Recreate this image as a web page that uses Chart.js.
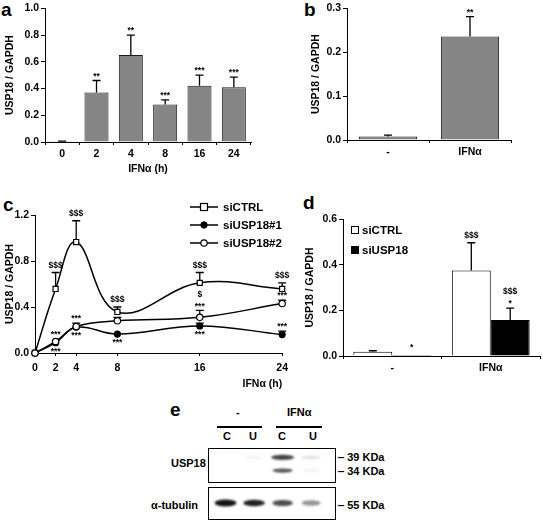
<!DOCTYPE html>
<html>
<head>
<meta charset="utf-8">
<script src="https://cdn.jsdelivr.net/npm/chart.js@4.4.1/dist/chart.umd.min.js"></script>
<style>
  body { margin: 0; width: 543px; height: 521px; overflow: hidden; position: relative; background: #fff;
         font-family: "Liberation Sans", Arial, sans-serif; font-weight: bold; color: #000; }
  .cx { position: absolute; }
  .txt { position: absolute; font-size: 11px; line-height: 12px; white-space: nowrap; }
  .letra { position: absolute; font-size: 19px; line-height: 20px; font-weight: bold; }
  .leg { position: absolute; font-size: 11.5px; line-height: 12px; display: flex; align-items: center; white-space: nowrap; }
  .leg svg { margin-right: 4px; }
  .traco { position: absolute; height: 2px; background: #000; }
  .caixa { position: absolute; border: 1.5px solid #000; box-sizing: border-box; }
</style>
</head>
<body>
<div class="letra" style="left:1px;top:0">a</div>
<div class="letra" style="left:304px;top:0">b</div>
<div class="letra" style="left:3px;top:195px">c</div>
<div class="letra" style="left:303px;top:193px">d</div>
<div class="letra" style="left:170px;top:400px">e</div>

<div class="cx" style="left:4px;top:0;width:262px;height:175px"><canvas id="graficoA"></canvas></div>
<div class="cx" style="left:310px;top:0;width:233px;height:173px"><canvas id="graficoB"></canvas></div>
<div class="cx" style="left:4px;top:205px;width:290px;height:185px"><canvas id="graficoC"></canvas></div>
<div class="cx" style="left:304px;top:209px;width:239px;height:168px"><canvas id="graficoD"></canvas></div>

<div id="legendaC"></div>
<div id="legendaD"></div>

<!-- painel e: western blot -->
<div class="txt" style="left:236px;top:406px">-</div>
<div class="txt" style="left:287px;top:406px">IFNα</div>
<div class="traco" style="left:217px;top:426px;width:45px"></div>
<div class="traco" style="left:276px;top:426px;width:46px"></div>
<div id="pistas"></div>
<div class="txt" style="left:171px;top:457px">USP18</div>
<div class="txt" style="left:151px;top:499px">α-tubulin</div>
<div class="txt" style="left:338px;top:451px">‒ 39 KDa</div>
<div class="txt" style="left:338px;top:465px">‒ 34 KDa</div>
<div class="txt" style="left:338px;top:499px">‒ 55 KDa</div>
<div class="caixa" style="left:208px;top:448px;width:128px;height:35px"><div style="position:relative;width:125px;height:32px"><canvas id="blotUSP18"></canvas></div></div>
<div class="caixa" style="left:208px;top:487px;width:128px;height:33px"><div style="position:relative;width:125px;height:30px"><canvas id="blotTubulina"></canvas></div></div>

<script>
// painel a
const horasA = ['0', '2', '4', '8', '16', '24'];
const mediaA = [0.005, 0.37, 0.65, 0.28, 0.42, 0.41];
const erroA = [0.007, 0.46, 0.80, 0.315, 0.50, 0.485];
const sigA = ['', '**', '**', '***', '***', '***'];

// painel b
const gruposB = ['-', 'IFNα'];
const mediaB = [0.008, 0.236];
const erroB = [0.011, 0.281];
const sigB = ['', '**'];

// painel c
const horasC = [0, 2, 4, 8, 16, 24];
const seriesC = ['siCTRL', 'siUSP18#1', 'siUSP18#2'];
const ctrlC = [0, 0.557, 0.965, 0.357, 0.61, 0.557];
const ctrlErroC = [null, 0.70, 1.15, 0.40, 0.70, 0.61];
const ctrlSigC = ['', '$$$', '$$$', '$$$', '$$$', '$$$'];
const usp1C = [0, 0.09, 0.225, 0.165, 0.235, 0.16];
const usp1ErroC = [null, null, null, null, 0.26, 0.19];
const usp1SigCima = ['', '', '', '', '', '***'];
const usp1SigBaixo = ['', '***', '***', '***', '***', ''];
const usp2C = [0, 0.10, 0.23, 0.28, 0.31, 0.43];
const usp2ErroC = [null, null, 0.26, 0.31, 0.37, 0.46];
const usp2SigC = ['', '***', '***', '', '$\n***', '***'];
const ticksHorasC = [0, 2, 4, 8, 16, 24];

// painel d
const gruposD = ['-', 'IFNα'];
const seriesD = ['siCTRL', 'siUSP18'];
const ctrlD = [0.019, 0.374];
const ctrlErroD = [0.023, 0.496];
const ctrlSigD = ['', '$$$'];
const uspD = [0.004, 0.158];
const uspErroD = [null, 0.21];
const uspSigD = ['*', '$$$\n*'];

// painel e (intensidade das bandas, 0-1)
const pistasE = ['C', 'U', 'C', 'U'];
const posPistas = [1, 2, 3, 4];
const banda39 = [0, 0.05, 0.8, 0.12];
const banda34 = [0, 0, 0.72, 0.06];
const bandaTubulina = [1.0, 0.95, 0.75, 0.45];

Chart.defaults.font.family = '"Liberation Sans", Arial, sans-serif';
Chart.defaults.font.size = 10.5;
Chart.defaults.font.weight = 'bold';
Chart.defaults.color = '#000';
Chart.defaults.animation = false;
Chart.defaults.plugins.legend.display = false;
Chart.defaults.plugins.tooltip.enabled = false;

const pluginErros = {
  id: 'erros',
  beforeDatasetsDraw(chart) {
    const ctx = chart.ctx;
    const y = chart.scales.y;
    chart.data.datasets.forEach((ds, i) => {
      if (!ds.erro) return;
      chart.getDatasetMeta(i).data.forEach((el, j) => {
        const topo = ds.erro[j];
        if (topo == null) return;
        const yt = y.getPixelForValue(topo);
        ctx.save();
        ctx.strokeStyle = '#000';
        ctx.lineWidth = 1.3;
        ctx.beginPath();
        ctx.moveTo(el.x, el.y);
        ctx.lineTo(el.x, yt);
        ctx.moveTo(el.x - 4, yt);
        ctx.lineTo(el.x + 4, yt);
        ctx.stroke();
        ctx.restore();
      });
    });
  }
};

const pluginSig = {
  id: 'sig',
  afterDatasetsDraw(chart) {
    const ctx = chart.ctx;
    const y = chart.scales.y;
    ctx.save();
    ctx.font = 'bold 8.5px "Liberation Sans", Arial, sans-serif';
    ctx.textAlign = 'center';
    ctx.textBaseline = 'middle';
    ctx.fillStyle = '#000';
    chart.data.datasets.forEach((ds, i) => {
      chart.getDatasetMeta(i).data.forEach((el, j) => {
        const cima = ds.sigCima && ds.sigCima[j];
        if (cima) {
          const topo = ds.erro && ds.erro[j] != null ? y.getPixelForValue(ds.erro[j]) : el.y - 3;
          const linhas = cima.split('\n');
          linhas.forEach((t, k) => {
            const dy = t.startsWith('*') ? 4 : 7;
            ctx.fillText(t, el.x, topo - dy - (linhas.length - 1 - k) * 9);
          });
        }
        const baixo = ds.sigBaixo && ds.sigBaixo[j];
        if (baixo) ctx.fillText(baixo, el.x, el.y + 9);
      });
    });
    ctx.restore();
  }
};

const pluginBandas = {
  id: 'bandas',
  afterDatasetsDraw(chart) {
    const ctx = chart.ctx;
    chart.data.datasets.forEach((ds, i) => {
      chart.getDatasetMeta(i).data.forEach((el, j) => {
        const v = ds.intensidade[j];
        if (!v) return;
        ctx.save();
        ctx.filter = 'blur(1.3px)';
        ctx.fillStyle = `rgba(20,20,20,${v})`;
        ctx.beginPath();
        ctx.ellipse(el.x, el.y, ds.rx * (0.75 + 0.25 * v), ds.ry * (0.6 + 0.4 * v), 0, 0, Math.PI * 2);
        ctx.fill();
        ctx.restore();
      });
    });
  }
};

function eixoY(largura, max, passo, titulo) {
  return {
    min: 0, max,
    afterFit: s => { s.width = largura; },
    ticks: { stepSize: passo, padding: 2, callback: v => Number(v).toFixed(1) },
    grid: { drawOnChartArea: false, color: '#000', tickLength: 4 },
    border: { color: '#000', width: 1 },
    title: titulo ? { display: true, text: titulo, padding: 0, font: { size: 10.5, weight: 'bold' } } : { display: false }
  };
}

function eixoXCat(altura, titulo) {
  return {
    afterFit: s => { s.height = altura; },
    ticks: { padding: 3 },
    grid: { drawOnChartArea: false, offset: true, color: '#000', tickLength: 3 },
    border: { color: '#000', width: 1 },
    title: titulo ? { display: true, text: titulo, padding: 0, font: { size: 10.5, weight: 'bold' } } : { display: false }
  };
}

const opcoesBase = { responsive: true, maintainAspectRatio: false };

new Chart(document.getElementById('graficoA'), {
  type: 'bar',
  data: {
    labels: horasA,
    datasets: [{ data: mediaA, erro: erroA, sigCima: sigA, backgroundColor: '#858585', borderColor: '#1a1a1a', borderWidth: 1,
                 categoryPercentage: 1, barPercentage: 0.7 }]
  },
  options: { ...opcoesBase, layout: { padding: { top: 6, right: 15 } },
    scales: { x: eixoXCat(33, 'IFNα (h)'), y: eixoY(41, 1.0, 0.2, 'USP18 / GAPDH') } },
  plugins: [pluginErros, pluginSig]
});

new Chart(document.getElementById('graficoB'), {
  type: 'bar',
  data: {
    labels: gruposB,
    datasets: [{ data: mediaB, erro: erroB, sigCima: sigB, backgroundColor: '#858585', borderColor: '#1a1a1a', borderWidth: 1,
                 categoryPercentage: 1, barPercentage: 0.71 }]
  },
  options: { ...opcoesBase, layout: { padding: { top: 6, right: 32 } },
    scales: { x: eixoXCat(33), y: eixoY(37, 0.3, 0.1, 'USP18 / GAPDH') } },
  plugins: [pluginErros, pluginSig]
});

const eixoXC = {
  type: 'linear', min: 0, max: 24,
  afterBuildTicks: s => { s.ticks = ticksHorasC.map(v => ({ value: v })); },
  afterFit: s => { s.height = 37; },
  ticks: { padding: 6 },
  grid: { drawOnChartArea: false, color: '#000', tickLength: 3 },
  border: { color: '#000', width: 1 },
  title: { display: true, text: 'IFNα (h)', align: 'end', padding: 0, font: { size: 10.5, weight: 'bold' } }
};

const linhaBase = { borderColor: '#000', borderWidth: 1.5, tension: 0.4, clip: false, pointBorderColor: '#000', pointBorderWidth: 1.2 };

new Chart(document.getElementById('graficoC'), {
  type: 'line',
  data: {
    datasets: [
      { ...linhaBase, label: seriesC[2], data: horasC.map((h, i) => ({ x: h, y: usp2C[i] })), erro: usp2ErroC, sigCima: usp2SigC,
        pointStyle: 'circle', pointRadius: 3.2, pointBackgroundColor: '#fff' },
      { ...linhaBase, label: seriesC[1], data: horasC.map((h, i) => ({ x: h, y: usp1C[i] })), erro: usp1ErroC, sigCima: usp1SigCima, sigBaixo: usp1SigBaixo,
        pointStyle: 'circle', pointRadius: 3, pointBackgroundColor: '#000' },
      { ...linhaBase, label: seriesC[0], data: horasC.map((h, i) => ({ x: h, y: ctrlC[i] })), erro: ctrlErroC, sigCima: ctrlSigC,
        pointStyle: 'rect', pointRadius: 3.6, pointBackgroundColor: '#fff' }
    ]
  },
  options: { ...opcoesBase, layout: { padding: { top: 10, right: 10 } },
    scales: { x: eixoXC, y: { ...eixoY(31, 1.2, 0.4, 'USP18 / GAPDH') } } },
  plugins: [pluginErros, pluginSig]
});

new Chart(document.getElementById('graficoD'), {
  type: 'bar',
  data: {
    labels: gruposD,
    datasets: [
      { label: seriesD[0], data: ctrlD, erro: ctrlErroD, sigCima: ctrlSigD, backgroundColor: '#fff', borderColor: '#000', borderWidth: 1,
        categoryPercentage: 0.79, barPercentage: 1 },
      { label: seriesD[1], data: uspD, erro: uspErroD, sigCima: uspSigD, backgroundColor: '#000', borderColor: '#000', borderWidth: 1,
        categoryPercentage: 0.79, barPercentage: 1 }
    ]
  },
  options: { ...opcoesBase, layout: { padding: { top: 10, right: 3 } },
    scales: { x: eixoXCat(21), y: eixoY(39, 0.6, 0.2, 'USP18 / GAPDH') } },
  plugins: [pluginErros, pluginSig]
});

// legendas
const simbolosC = [
  '<rect x="10.5" y="2.5" width="7" height="7" fill="#fff" stroke="#000" stroke-width="1.2"/>',
  '<circle cx="14" cy="6" r="3.2" fill="#000" stroke="#000"/>',
  '<circle cx="14" cy="6" r="3.2" fill="#fff" stroke="#000" stroke-width="1.2"/>'
];
document.getElementById('legendaC').innerHTML = seriesC.map((nome, i) =>
  `<div class="leg" style="left:190px;top:${201 + i * 18}px"><svg width="29" height="12">` +
  `<line x1="0" y1="6" x2="28" y2="6" stroke="#000" stroke-width="1.5"/>${simbolosC[i]}</svg>${nome}</div>`).join('');

const corD = ['#fff', '#000'];
document.getElementById('legendaD').innerHTML = seriesD.map((nome, i) =>
  `<div class="leg" style="left:351px;top:${224 + i * 20}px"><svg width="8" height="9" style="margin-right:3px">` +
  `<rect x="0.5" y="0.5" width="7" height="7" fill="${corD[i]}" stroke="#000"/></svg>${nome}</div>`).join('');

// painel e
const xPistas = [227, 253, 282, 313];
document.getElementById('pistas').innerHTML = pistasE.map((p, i) =>
  `<div class="txt" style="left:${xPistas[i] - 4}px;top:430px">${p}</div>`).join('');

function blot(id, datasets, ymin, ymax) {
  new Chart(document.getElementById(id), {
    type: 'scatter',
    data: { datasets },
    options: { ...opcoesBase, layout: { padding: 0 },
      scales: { x: { type: 'linear', min: 0.42, max: 4.8, display: false }, y: { min: ymin, max: ymax, display: false } } },
    plugins: [pluginBandas]
  });
}

blot('blotUSP18', [
  { data: posPistas.map(p => ({ x: p, y: 39 })), intensidade: banda39, rx: 12, ry: 2.8, pointRadius: 0 },
  { data: posPistas.map(p => ({ x: p, y: 34 })), intensidade: banda34, rx: 11, ry: 2.4, pointRadius: 0 }
], 30, 42.2);
blot('blotTubulina', [
  { data: posPistas.map(p => ({ x: p, y: 55 })), intensidade: bandaTubulina, rx: 11, ry: 3.4, pointRadius: 0 }
], 50, 60);
</script>
</body>
</html>
